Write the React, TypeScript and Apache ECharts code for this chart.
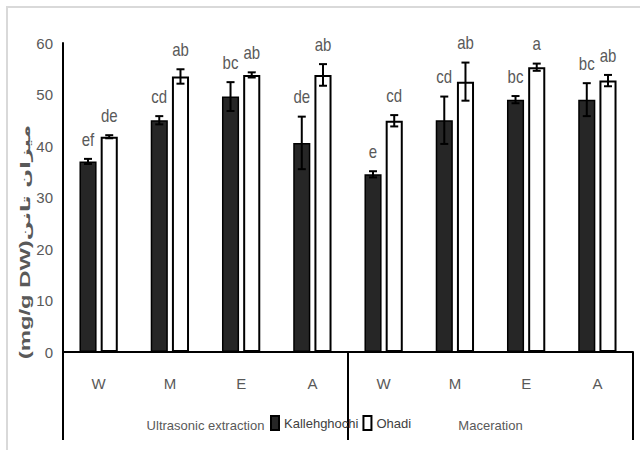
import React, { useEffect, useRef } from "react";
import * as echarts from "echarts";

const categories = ["W", "M", "E", "A", "W", "M", "E", "A"];
const methods = ["Ultrasonic extraction", "Maceration"];
const seriesNames = ["Kallehghochi", "Ohadi"];
const kallehValues = [37.0, 45.0, 49.6, 40.6, 34.5, 45.0, 49.0, 49.0];
const kallehErrors = [0.5, 0.8, 2.8, 5.1, 0.6, 4.6, 0.7, 3.2];
const kallehLetters = ["ef", "cd", "bc", "de", "e", "cd", "bc", "bc"];
const ohadiValues = [41.8, 53.5, 53.8, 53.8, 44.9, 52.5, 55.3, 52.7];
const ohadiErrors = [0.3, 1.4, 0.5, 2.1, 1.1, 3.7, 0.7, 1.1];
const ohadiLetters = ["de", "ab", "ab", "ab", "cd", "ab", "a", "ab"];
const yTitleUnit = "(mg/g DW)";
const yTitleName = "میزان تانن";

const FONT = "'Liberation Sans Narrow', 'Liberation Sans', sans-serif";
const BAR_FRAC = 0.24;
const GAP_FRAC = 0.24;

function errSeries(name: string, vals: number[], errs: number[], letters: string[], side: number) {
  return {
    type: "custom",
    name,
    xAxisIndex: 0,
    yAxisIndex: 0,
    z: 5,
    data: vals.map((v, i) => [i, v, errs[i]]),
    encode: { x: 0, y: 1 },
    renderItem: (params: any, api: any) => {
      const idx = api.value(0);
      const v = api.value(1);
      const e = api.value(2);
      const band = api.size([1, 0])[0];
      const barW = band * BAR_FRAC;
      const off = side * (barW + barW * GAP_FRAC) / 2;
      const top = api.coord([idx, v + e]);
      const bot = api.coord([idx, v - e]);
      const x = top[0] + off;
      const cap = 4;
      const ls = { stroke: "#000", lineWidth: 2 };
      return {
        type: "group",
        children: [
          { type: "line", shape: { x1: x, y1: top[1], x2: x, y2: bot[1] }, style: ls },
          { type: "line", shape: { x1: x - cap, y1: top[1], x2: x + cap, y2: top[1] }, style: ls },
          { type: "line", shape: { x1: x - cap, y1: bot[1], x2: x + cap, y2: bot[1] }, style: ls },
          {
            type: "text",
            x,
            y: top[1] - 10,
            scaleY: 1.25,
            style: {
              text: letters[params.dataIndex],
              align: "center",
              verticalAlign: "bottom",
              fontSize: 15,
              fontFamily: FONT,
              fill: "#595959",
            },
          },
        ],
      };
    },
  };
}

export default function App() {
  const ref = useRef<HTMLDivElement>(null);
  useEffect(() => {
    document.body.style.margin = "0";
    const chart = echarts.init(ref.current!, null, { renderer: "svg" });
    chart.setOption({
      animation: false,
      backgroundColor: "#fff",
      textStyle: { fontFamily: FONT },
      grid: { left: 63, right: 7, top: 43, bottom: 98 },
      legend: {
        data: seriesNames,
        left: 265,
        top: 410,
        icon: "rect",
        itemWidth: 8,
        itemHeight: 14,
        itemGap: 4,
        textStyle: { fontSize: 13, color: "#404040", fontFamily: FONT },
      },
      xAxis: [
        {
          type: "category",
          data: categories,
          position: "bottom",
          axisLine: { lineStyle: { color: "#000", width: 2 } },
          axisTick: { show: false },
          axisLabel: { margin: 24, fontSize: 15, color: "#595959" },
        },
        {
          type: "category",
          data: methods,
          position: "bottom",
          axisLine: { show: false },
          axisTick: { show: true, length: 88, lineStyle: { color: "#000", width: 2 } },
          axisLabel: { margin: 67, fontSize: 13, color: "#595959" },
        },
      ],
      yAxis: {
        type: "value",
        min: 0,
        max: 60,
        interval: 10,
        axisLine: { show: true, lineStyle: { color: "#000", width: 2 } },
        axisTick: { show: false },
        splitLine: { show: false },
        axisLabel: { margin: 10, fontSize: 15, color: "#595959" },
      },
      graphic: [
        {
          type: "rect",
          shape: { x: 7, y: 7, width: 660, height: 470 },
          style: { fill: "none", stroke: "#d9d9d9", lineWidth: 2 },
          silent: true,
        },
        {
          type: "text",
          x: 25,
          y: 242,
          rotation: Math.PI / 2,
          scaleX: 1.7,
          style: {
            text: "{a|" + yTitleUnit + "}{b|" + yTitleName + "}",
            align: "center",
            verticalAlign: "middle",
            fill: "#595959",
            rich: {
              a: {
                fontSize: 14,
                fontWeight: "bold",
                fontFamily: "'Liberation Sans', sans-serif",
                fill: "#595959",
              },
              b: {
                fontSize: 13,
                fontWeight: "bold",
                fontFamily: "'DejaVu Sans', sans-serif",
                fill: "#595959",
              },
            },
          },
        },
      ],
      series: [
        {
          type: "bar",
          name: seriesNames[0],
          data: kallehValues,
          barWidth: BAR_FRAC * 100 + "%",
          barGap: GAP_FRAC * 100 + "%",
          itemStyle: { color: "#262626", borderColor: "#000", borderWidth: 1.5 },
        },
        {
          type: "bar",
          name: seriesNames[1],
          data: ohadiValues,
          barWidth: BAR_FRAC * 100 + "%",
          barGap: GAP_FRAC * 100 + "%",
          itemStyle: { color: "#fff", borderColor: "#000", borderWidth: 2 },
        },
        errSeries("kErr", kallehValues, kallehErrors, kallehLetters, -1),
        errSeries("oErr", ohadiValues, ohadiErrors, ohadiLetters, 1),
      ],
    });
    return () => chart.dispose();
  }, []);
  return <div ref={ref} style={{ width: 640, height: 450 }} />;
}
